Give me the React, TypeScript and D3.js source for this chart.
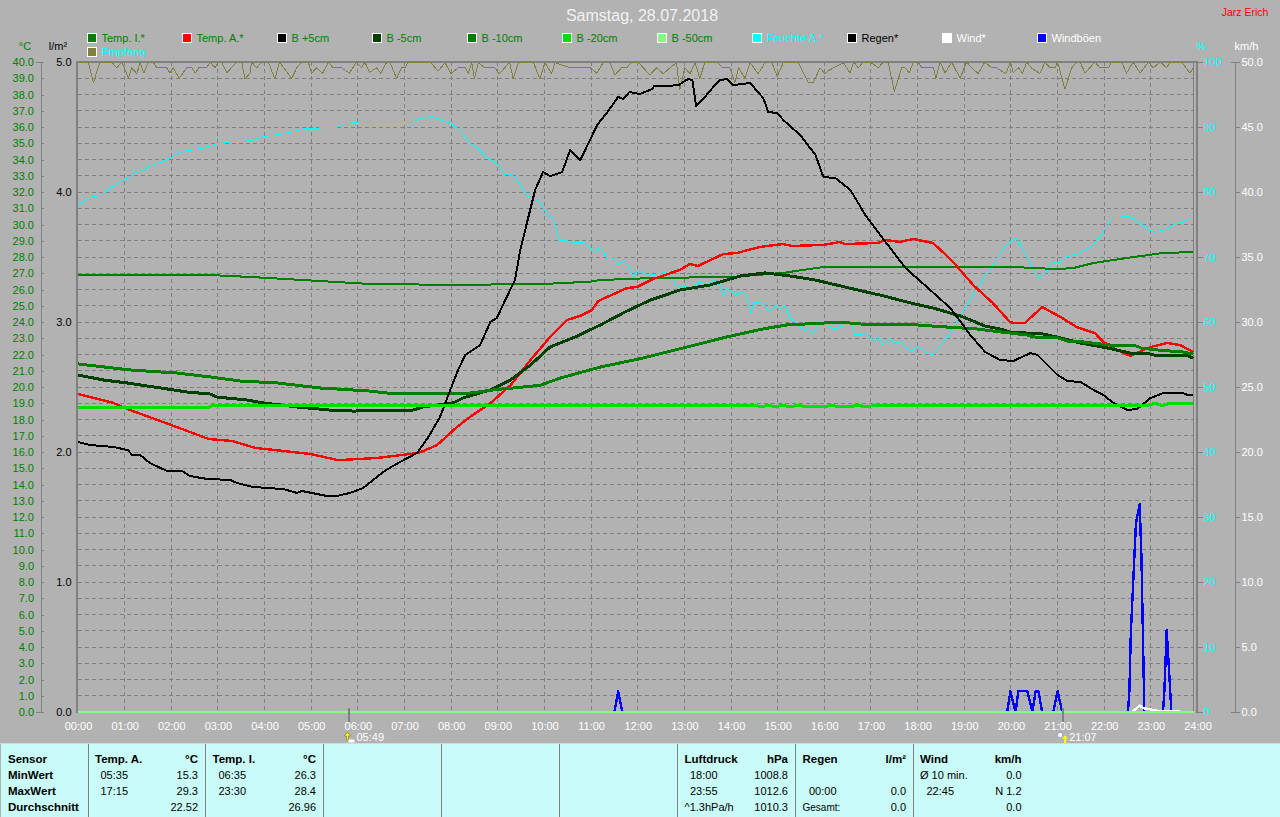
import { useEffect, useRef } from 'react';
import * as d3 from 'd3';

type Pt = [number, number]; // [hour of day, value]

const tempInside: Pt[] = [[0,26.92],[2.83,26.89],[3.7,26.77],[5.2,26.52],[6.25,26.34],[8.2,26.28],[10.12,26.36],[10.98,26.48],[11.19,26.58],[12.26,26.7],[14.04,26.78],[15.11,27.02],[15.97,27.38],[19.98,27.4],[20.48,27.32],[21,27.26],[21.34,27.32],[21.77,27.63],[22.63,28],[23.27,28.25],[23.91,28.3]];
const tempOutside: Pt[] = [[0,19.57],[0.75,19.03],[1.1,18.6],[2,17.66],[2.8,16.8],[3.3,16.68],[3.8,16.25],[4.98,15.88],[5.58,15.5],[6.4,15.63],[7.3,15.94],[7.7,16.43],[8.1,17.48],[8.4,18.15],[8.84,19],[9.27,20.1],[9.7,21.66],[10.12,23.08],[10.48,24.12],[10.76,24.37],[11.02,24.74],[11.15,25.29],[11.77,26.09],[11.98,26.15],[12.33,26.65],[12.9,27.2],[13.12,27.57],[13.29,27.45],[13.83,28.18],[14.13,28.25],[14.62,28.62],[15.11,28.8],[15.3,28.68],[15.97,28.74],[16.33,28.92],[16.44,28.8],[17.15,28.86],[17.3,29.05],[17.62,28.92],[17.9,29.11],[18.33,28.86],[18.54,28.3],[18.76,27.69],[19.19,26.28],[19.61,25.17],[19.98,24],[20.05,23.94],[20.3,23.94],[20.67,24.92],[21.06,24.31],[21.41,23.69],[21.8,23.32],[21.98,22.77],[22.28,22.28],[22.56,21.91],[22.99,22.46],[23.35,22.71],[23.63,22.58],[23.91,22.15]];
const soilPlus5: Pt[] = [[0,16.62],[0.26,16.43],[0.75,16.31],[1.07,16.12],[1.16,15.82],[1.33,15.82],[1.54,15.32],[1.91,14.83],[2.23,14.83],[2.4,14.52],[2.77,14.34],[3.26,14.28],[3.41,14.09],[3.75,13.85],[4.4,13.72],[4.7,13.48],[4.8,13.6],[5.34,13.29],[5.55,13.29],[5.83,13.48],[6.11,13.78],[6.33,14.28],[6.54,14.77],[6.86,15.32],[7.27,15.94],[7.51,16.92],[7.76,18.15],[7.98,19.82],[8.15,21.05],[8.3,21.97],[8.62,22.58],[8.84,24],[8.98,24.25],[9.16,25.35],[9.37,26.6],[9.48,28.43],[9.8,32.12],[9.97,33.23],[10.12,32.98],[10.38,33.23],[10.55,34.58],[10.77,33.97],[11.13,36.12],[11.35,36.92],[11.58,37.85],[11.69,37.72],[11.82,38.15],[12.05,38.03],[12.31,38.34],[12.35,38.52],[12.63,38.52],[12.87,38.58],[13.08,38.95],[13.17,38.89],[13.25,37.29],[13.4,37.72],[13.62,38.46],[13.77,38.89],[13.92,38.95],[14.05,38.58],[14.41,38.71],[14.69,37.78],[14.8,36.92],[14.99,36.86],[15.12,36.43],[15.48,35.51],[15.81,34.28],[15.98,32.92],[16.24,32.86],[16.56,32.12],[16.88,30.58],[17.2,29.35],[17.74,27.32],[18.27,25.97],[18.7,24.86],[19.13,23.2],[19.45,22.15],[19.77,21.66],[20.05,21.6],[20.42,22.09],[20.57,21.97],[21,20.74],[21.21,20.37],[21.49,20.31],[21.77,19.82],[21.98,19.51],[22.2,19.02],[22.5,18.58],[22.71,18.65],[22.99,19.32],[23.27,19.63],[23.68,19.63],[23.79,19.51],[23.91,19.51]];
const soilMinus5: Pt[] = [[0,20.74],[0.55,20.43],[1.05,20.25],[1.48,20.06],[1.91,19.88],[2.34,19.69],[2.83,19.57],[2.98,19.38],[3.62,19.2],[3.97,19.02],[4.7,18.77],[5.4,18.58],[5.9,18.52],[7.18,18.58],[7.4,18.77],[8.04,19.02],[8.25,19.32],[8.4,19.45],[8.84,19.82],[9.27,20.43],[9.7,21.35],[10.12,22.46],[10.66,23.08],[11.2,23.82],[11.73,24.62],[12.27,25.35],[12.91,25.97],[13.55,26.28],[14.2,26.83],[14.73,27.02],[15.27,26.83],[15.81,26.58],[16.7,25.98],[17.28,25.6],[17.85,25.17],[18.33,24.86],[18.92,24.37],[19.45,23.75],[19.77,23.57],[19.99,23.38],[20.7,23.26],[21.06,23.02],[21.49,22.71],[22.07,22.4],[22.56,22.09],[22.99,22.03],[23.14,21.91],[23.79,21.91],[23.91,21.78]];
const soilMinus10: Pt[] = [[0,21.42],[1.11,21.05],[2.12,20.86],[2.83,20.62],[3.47,20.37],[4.27,20.25],[5.19,19.94],[6.26,19.75],[6.63,19.63],[8.4,19.63],[9,19.85],[9.9,20.1],[10.34,20.55],[11.2,21.23],[12.11,21.78],[12.97,22.4],[13.91,23.08],[14.68,23.57],[15.2,23.82],[16.4,24],[16.7,23.88],[17.98,23.82],[18.63,23.69],[19.27,23.57],[19.98,23.32],[20.35,23.2],[20.48,23.08],[21,23.02],[21.21,22.83],[21.55,22.77],[22.13,22.58],[22.71,22.52],[22.78,22.4],[23.14,22.28],[23.7,22.15],[23.91,22.03]];
const soilMinus20: Pt[] = [[0,18.74],[2.8,18.74],[2.9,18.89],[14.5,18.89],[14.65,18.77],[14.8,18.89],[14.95,18.77],[15.1,18.89],[15.25,18.77],[15.45,18.89],[15.6,18.77],[16,18.77],[16.15,18.89],[16.3,18.77],[16.55,18.77],[16.7,18.89],[16.9,18.77],[17.1,18.89],[22.95,18.89],[23.1,19],[23.25,18.85],[23.4,19],[23.91,19]];
const soilMinus50: Pt[] = [[0,0],[23.92,0]];
const rain: Pt[] = [[0,0],[23.92,0]];
const humidity: Pt[] = [[0,78],[0.26,79.2],[0.51,79.5],[0.69,80.7],[0.83,81.1],[0.94,81.8],[1.11,82.3],[1.19,82.8],[1.44,83.5],[1.54,84],[1.76,84.5],[2.04,85.5],[2.22,86.2],[2.65,86.7],[2.97,87.4],[3.26,87.7],[3.72,87.9],[3.97,88.5],[4.26,88.8],[4.69,89.4],[4.82,89.7],[5.55,90],[5.72,90.5],[6.05,90.8],[7.22,90.9],[7.33,91.3],[7.58,91.6],[7.94,90.7],[8.05,90.3],[8.22,89.2],[8.4,87.5],[8.55,86.9],[8.76,85.4],[9.01,84.2],[9.15,82.7],[9.26,82.8],[9.4,82.1],[9.63,79.4],[9.76,79],[9.9,78.4],[9.97,77.7],[10.1,76],[10.17,76.2],[10.32,72.5],[10.44,72.6],[10.58,72.1],[10.69,72.3],[10.9,72.1],[11.07,70.7],[11.15,71.3],[11.26,71.1],[11.33,69.8],[11.44,70],[11.58,68.8],[11.73,69.7],[11.9,67],[11.99,67.9],[12.23,67.2],[12.58,67.6],[12.73,67.2],[12.82,65.7],[12.94,65.3],[13.12,65.7],[13.19,65.4],[13.3,66.1],[13.48,65.9],[13.65,66.5],[13.78,65.5],[13.83,64],[13.9,65.2],[14.12,64.2],[14.23,64.7],[14.33,63.9],[14.43,61.4],[14.5,63.1],[14.69,62.8],[14.83,61.6],[14.94,62.5],[15.05,62.1],[15.16,62.5],[15.26,60.7],[15.44,59.5],[15.58,58.7],[15.65,59],[15.76,58.4],[15.87,59.4],[16.05,59.5],[16.23,58.9],[16.41,59.4],[16.59,59.4],[16.66,58],[16.87,58.2],[17.08,57],[17.16,57.7],[17.26,56.5],[17.41,57.5],[17.51,56.7],[17.66,57],[17.76,55.8],[17.87,55.6],[18.01,56.2],[18.19,55.3],[18.33,54.9],[18.48,56.5],[18.66,57.8],[18.91,60.8],[19.19,64.2],[19.48,67.5],[19.73,70],[19.87,71.6],[20.09,72.9],[20.16,72.4],[20.59,66.7],[20.73,67.5],[20.91,69.3],[21.01,69],[21.19,70],[21.48,70.6],[21.76,71.8],[22.19,76],[22.51,76.3],[22.77,75.3],[22.91,74.3],[23.09,73.8],[23.34,74.3],[23.52,75.1],[23.69,75.3],[23.89,76.2]];
const reception: Pt[] = [[0,100],[0.22,100],[0.33,96.8],[0.47,100],[0.72,100],[0.83,99.1],[0.94,100],[1.08,97.5],[1.15,99.1],[1.26,98.2],[1.33,99.9],[1.41,98.3],[1.51,100],[1.61,100],[1.69,99.1],[1.9,99.1],[1.97,98.3],[2.04,99.1],[2.17,97.5],[2.33,99.1],[2.44,99.1],[2.51,98.3],[2.59,99.1],[2.76,99.1],[2.83,100],[2.94,99.1],[3.01,100],[3.08,100],[3.19,98.3],[3.4,100],[3.51,100],[3.58,97.4],[3.69,98.3],[3.72,100],[3.83,99.1],[3.94,100],[4.08,100],[4.22,97.4],[4.32,100],[4.58,97.5],[4.69,99.1],[4.79,100],[4.94,99.9],[5.01,98.3],[5.12,99.1],[5.24,98.2],[5.37,100],[5.47,99.1],[5.65,99.1],[5.82,98.3],[5.97,100],[6.08,99.1],[6.15,100],[6.25,98.4],[6.4,99.1],[6.49,98.3],[6.62,100],[6.69,99.9],[6.83,97.5],[6.94,99.1],[7.01,99.1],[7.08,100],[7.55,100],[7.72,98.6],[7.87,99.9],[7.99,98.2],[8.15,99.1],[8.3,99.1],[8.37,98.3],[8.44,99.9],[8.5,97.5],[8.58,99.9],[8.72,99.1],[8.94,99.1],[9.03,98.2],[9.15,99.1],[9.25,100],[9.33,97.5],[9.44,99.9],[9.76,100],[9.9,97.4],[10.01,99.9],[10.15,98.2],[10.23,99.9],[10.55,99.1],[10.98,99.1],[11.12,98.3],[11.26,99.9],[11.4,100],[11.51,98],[11.65,99.1],[11.76,99.1],[11.87,100],[12.01,100],[12.12,99.1],[12.26,98],[12.4,99.1],[12.55,98.2],[12.69,99.1],[12.83,99.9],[12.9,95.7],[13.01,99.1],[13.12,98.2],[13.23,99.9],[13.33,97.5],[13.44,99.9],[13.69,100],[13.83,99.1],[13.98,99.1],[14.08,96.8],[14.16,99.1],[14.3,97.5],[14.41,99.9],[14.58,98.2],[14.73,99.9],[14.87,100],[14.99,97.8],[15.12,99.9],[15.44,99.9],[15.66,96.8],[15.76,96.8],[15.91,99.1],[16.01,98.2],[16.12,98.8],[16.41,99.9],[16.55,98.3],[16.63,100],[16.73,99.1],[16.83,100],[16.98,100],[17.16,99.1],[17.26,100],[17.37,99.9],[17.5,95.5],[17.66,99.1],[17.73,99.1],[17.82,98.3],[17.91,100],[18.01,100],[18.09,99.1],[18.34,99.1],[18.39,97.4],[18.48,100],[18.59,98.3],[18.73,100],[18.91,97.5],[19.05,100],[19.16,99.1],[19.3,98.2],[19.44,100],[19.59,99.1],[19.69,99.1],[19.89,98.2],[19.99,100],[20.05,98.3],[20.16,99.1],[20.25,98.3],[20.34,100],[20.44,99.1],[20.62,98.2],[20.73,100],[20.84,99.1],[20.95,99.1],[21,100],[21.16,95.8],[21.3,99.1],[21.41,100],[21.48,100],[21.59,98.3],[21.69,99.1],[21.8,100],[21.91,99.1],[22.09,99.1],[22.16,100],[22.37,100],[22.48,98.3],[22.62,100],[22.77,98.3],[22.95,100],[23.05,99.1],[23.2,100],[23.34,99.1],[23.41,100],[23.66,100],[23.84,98.3],[23.91,99.1]];
const wind: Pt[] = [[22.6,0],[22.76,0.5],[22.84,0.3],[23.14,0.1],[23.63,0.1]];
// gust bursts, the line is only drawn while the gusts are above zero
const gustsNoon: Pt[] = [[11.5,0],[11.58,1.6],[11.67,0]];
const gustsEvening: Pt[] = [[19.92,0],[19.99,1.6],[20.1,0],[20.16,1.6],[20.35,1.6],[20.46,0],[20.53,1.6],[20.59,1.6],[20.67,0]];
const gustsNine: Pt[] = [[20.91,0],[21,1.6],[21.1,0]];
const gustsPeak: Pt[] = [[22.51,0],[22.54,1.6],[22.57,6],[22.68,14.5],[22.76,16],[22.8,11.7],[22.84,4],[22.86,0]];
const gustsLate: Pt[] = [[23.26,0],[23.29,1.6],[23.34,6.3],[23.39,3.2],[23.44,0]];

const sunrise = 5.82;
const sunset = 21.12;

const legendTop = [
  { label: 'Temp. I.*', color: '#008000', text: '#008000' },
  { label: 'Temp. A.*', color: '#ff0000', text: '#008000' },
  { label: 'B +5cm', color: '#000000', text: '#008000' },
  { label: 'B -5cm', color: '#004000', text: '#008000' },
  { label: 'B -10cm', color: '#008000', text: '#008000' },
  { label: 'B -20cm', color: '#00e000', text: '#008000' },
  { label: 'B -50cm', color: '#80ff80', text: '#008000' },
  { label: 'Feuchte A.*', color: '#00ffff', text: '#00ffff' },
  { label: 'Regen*', color: '#000000', text: '#000000' },
  { label: 'Wind*', color: '#ffffff', text: '#ffffff' },
  { label: 'Windböen', color: '#0000ff', text: '#ffffff' },
];

const tableDividers = [88, 205, 323, 441, 559, 677, 795, 913];
const tableRows = ['Sensor', 'MinWert', 'MaxWert', 'Durchschnitt'];
// [text, x, row, anchor, bold]
const tableCells: [string, number, number, string, boolean][] = [
  ['Temp. A.', 95, 0, 'start', true], ['°C', 198, 0, 'end', true],
  ['05:35', 100.5, 1, 'start', false], ['15.3', 198, 1, 'end', false],
  ['17:15', 100.5, 2, 'start', false], ['29.3', 198, 2, 'end', false],
  ['22.52', 198, 3, 'end', false],
  ['Temp. I.', 212.5, 0, 'start', true], ['°C', 316, 0, 'end', true],
  ['06:35', 218.5, 1, 'start', false], ['26.3', 316, 1, 'end', false],
  ['23:30', 218.5, 2, 'start', false], ['28.4', 316, 2, 'end', false],
  ['26.96', 316, 3, 'end', false],
  ['Luftdruck', 684.5, 0, 'start', true], ['hPa', 788, 0, 'end', true],
  ['18:00', 690, 1, 'start', false], ['1008.8', 788, 1, 'end', false],
  ['23:55', 690, 2, 'start', false], ['1012.6', 788, 2, 'end', false],
  ['^1.3hPa/h', 684.5, 3, 'start', false], ['1010.3', 788, 3, 'end', false],
  ['Regen', 802.5, 0, 'start', true], ['l/m²', 906, 0, 'end', true],
  ['00:00', 809, 2, 'start', false], ['0.0', 906, 2, 'end', false],
  ['Gesamt:', 802.5, 3, 'start', false], ['0.0', 906, 3, 'end', false],
  ['Wind', 920, 0, 'start', true], ['km/h', 1021.5, 0, 'end', true],
  ['Ø 10 min.', 920, 1, 'start', false], ['0.0', 1021.5, 1, 'end', false],
  ['22:45', 926.5, 2, 'start', false], ['N 1.2', 1021.5, 2, 'end', false],
  ['0.0', 1021.5, 3, 'end', false],
];

const FONT = '"Liberation Sans", Arial, sans-serif';
const GREY = '#808080';
const WIDTH = 1280;
const HEIGHT = 817;
const TOP = 62;
const BOTTOM = 712;
const LEFT = 78;
const RIGHT = 1197.5;

export default function App() {
  const svgRef = useRef<SVGSVGElement>(null);

  useEffect(() => {
    if (!svgRef.current) return;
    const svg = d3.select(svgRef.current);
    svg.selectAll('*').remove();
    svg.attr('font-family', FONT).attr('font-size', 11);

    const x = d3.scaleLinear().domain([0, 24]).range([LEFT, RIGHT]);
    const yTemp = d3.scaleLinear().domain([0, 40]).range([BOTTOM, TOP]);
    const yRain = d3.scaleLinear().domain([0, 5]).range([BOTTOM, TOP]);
    const yPct = d3.scaleLinear().domain([0, 100]).range([BOTTOM, TOP]);
    const yWind = d3.scaleLinear().domain([0, 50]).range([BOTTOM, TOP]);

    svg.append('rect').attr('width', WIDTH).attr('height', HEIGHT).attr('fill', '#b2b2b2');

    // dashed grid
    const grid = svg.append('g').attr('stroke', GREY).attr('stroke-dasharray', '4,3').attr('shape-rendering', 'crispEdges');
    d3.range(0, 40).forEach(v => {
      grid.append('line').attr('x1', LEFT).attr('x2', 1193).attr('y1', yTemp(v)).attr('y2', yTemp(v));
    });
    d3.range(1, 24).forEach(h => {
      grid.append('line').attr('x1', x(h)).attr('x2', x(h)).attr('y1', TOP).attr('y2', BOTTOM);
    });

    // frame
    const frame = svg.append('g').attr('stroke', GREY).attr('shape-rendering', 'crispEdges');
    frame.append('line').attr('x1', 77).attr('x2', 77).attr('y1', TOP - 1).attr('y2', BOTTOM + 1).attr('stroke-width', 2);
    frame.append('line').attr('x1', 76).attr('x2', 1198).attr('y1', TOP).attr('y2', TOP).attr('stroke-width', 2);
    frame.append('line').attr('x1', 1193.5).attr('x2', 1193.5).attr('y1', TOP).attr('y2', BOTTOM);
    frame.append('line').attr('x1', 1197).attr('x2', 1197).attr('y1', TOP - 1).attr('y2', BOTTOM + 1).attr('stroke-width', 2);

    // axes
    const styleAxis = (g: d3.Selection<SVGGElement, unknown, null, undefined>, color: string) => {
      g.attr('font-family', FONT).attr('font-size', 11);
      g.selectAll('path, line').attr('stroke', GREY).attr('shape-rendering', 'crispEdges');
      g.selectAll('text').attr('fill', color);
    };
    const fmt = d3.format('.1f');

    svg.append('g').attr('transform', 'translate(40.5,0)')
      .call(d3.axisLeft(yTemp).tickValues(d3.range(0, 41)).tickFormat(d => fmt(d as number)).tickSize(-3).tickSizeOuter(5).tickPadding(6.5))
      .call(g => styleAxis(g, '#008000'));

    svg.append('g').attr('transform', 'translate(71.5,0)')
      .call(d3.axisLeft(yRain).tickValues(d3.range(0, 6)).tickFormat(d => fmt(d as number)).tickSize(0).tickPadding(0))
      .call(g => { styleAxis(g, '#000000'); g.select('.domain').remove(); });

    svg.append('g').attr('transform', 'translate(1197.5,0)')
      .call(d3.axisRight(yPct).tickValues(d3.range(0, 101, 10)).tickSize(5).tickSizeOuter(0).tickPadding(1))
      .call(g => { styleAxis(g, '#00ffff'); g.select('.domain').remove(); });

    svg.append('g').attr('transform', 'translate(1234.5,0)')
      .call(d3.axisRight(yWind).tickValues(d3.range(0, 51, 5)).tickFormat(d => fmt(d as number)).tickSize(5).tickSizeOuter(-4).tickPadding(2))
      .call(g => styleAxis(g, '#ffffff'));

    svg.append('g').attr('transform', `translate(0,${BOTTOM})`)
      .call(d3.axisBottom(x).tickValues(d3.range(0, 25)).tickFormat(d => `${d3.format('02d')(d as number)}:00`).tickSize(0).tickPadding(10))
      .call(g => { styleAxis(g, '#ffffff'); g.select('.domain').remove(); });

    // axis units
    const label = (t: string, px: number, py: number, fill: string, anchor = 'middle', size = 11) =>
      svg.append('text').attr('x', px).attr('y', py).attr('dy', '0.35em').attr('fill', fill)
        .attr('text-anchor', anchor).attr('font-size', size).text(t);
    label('°C', 25, 46.5, '#008000');
    label('l/m²', 58, 46.5, '#000000');
    label('%', 1201.5, 46.5, '#00ffff');
    label('km/h', 1246.5, 46.5, '#ffffff');
    label('Samstag, 28.07.2018', 642, 15, '#ffffff', 'middle', 16).attr('fill-opacity', 0.85);
    label('Jarz Erich', 1245, 12, '#ff0000', 'middle', 10.5);

    // legend
    legendTop.forEach((d, i) => {
      const lx = 87.5 + i * 95;
      svg.append('rect').attr('x', lx).attr('y', 33.5).attr('width', 9).attr('height', 9)
        .attr('fill', d.color).attr('stroke', '#ffffff').attr('shape-rendering', 'crispEdges');
      label(d.label, lx + 14, 38, d.text, 'start');
    });
    svg.append('rect').attr('x', 87.5).attr('y', 47.5).attr('width', 9).attr('height', 9)
      .attr('fill', '#808040').attr('stroke', '#ffffff').attr('shape-rendering', 'crispEdges');
    label('Empfang', 101.5, 52, '#00ffff', 'start');

    // series
    const plot = (data: Pt[], y: d3.ScaleLinear<number, number>, color: string, width: number) => {
      const line = d3.line<Pt>().x(d => x(d[0])).y(d => y(d[1]));
      svg.append('path').attr('d', line(data)).attr('fill', 'none').attr('stroke', color)
        .attr('stroke-width', width).attr('stroke-linejoin', 'round').attr('shape-rendering', 'crispEdges');
    };
    plot(reception, yPct, '#808040', 1);
    plot(humidity, yPct, '#00ffff', 1);
    plot(tempInside, yTemp, '#008000', 2);
    plot(tempOutside, yTemp, '#ff0000', 2.4);
    plot(soilMinus5, yTemp, '#004000', 3);
    plot(soilMinus10, yTemp, '#008000', 3);
    plot(soilPlus5, yTemp, '#000000', 2);
    plot(soilMinus20, yTemp, '#00e000', 3);
    plot(rain, yRain, '#000000', 1);
    [gustsNoon, gustsEvening, gustsNine, gustsPeak, gustsLate].forEach(b => plot(b, yWind, '#0000ff', 2.4));
    plot(wind, yWind, '#ffffff', 2.4);
    plot(soilMinus50, yTemp, '#80ff80', 1.5);

    // sunrise / sunset markers
    [sunrise, sunset].forEach(h => {
      svg.append('line').attr('x1', x(h)).attr('x2', x(h)).attr('y1', 708).attr('y2', 722)
        .attr('stroke', GREY).attr('stroke-width', 2).attr('shape-rendering', 'crispEdges');
    });
    const rx = x(sunrise);
    svg.append('path').attr('d', `M${rx - 5},736 L${rx - 2},732 L${rx + 1},736 L${rx - 1},736 L${rx - 1},740 L${rx - 3},740 L${rx - 3},736 Z`).attr('fill', '#ffff00').attr('stroke', '#404000').attr('stroke-width', 0.4);
    svg.append('rect').attr('x', rx - 1).attr('y', 739.5).attr('width', 6).attr('height', 3).attr('fill', '#ffffff');
    label('05:49', rx + 7, 737.5, '#ffffff', 'start');
    const sx = x(sunset);
    svg.append('circle').attr('cx', sx - 3).attr('cy', 735).attr('r', 2.5).attr('fill', '#ffffff').attr('stroke', '#4040a0').attr('stroke-width', 0.6).attr('stroke-dasharray', '1,1');
    svg.append('path').attr('d', `M${sx - 1},739 L${sx + 2},735 L${sx + 5},739 L${sx + 3},739 L${sx + 3},743 L${sx + 1},743 L${sx + 1},739 Z`).attr('fill', '#ffff00');
    label('21:07', sx + 6, 737.5, '#ffffff', 'start');

    // summary table
    svg.append('rect').attr('x', 1).attr('y', 744).attr('width', WIDTH - 1).attr('height', HEIGHT - 744).attr('fill', '#c9fbf8');
    svg.append('line').attr('x1', 0).attr('x2', WIDTH).attr('y1', 743.5).attr('y2', 743.5).attr('stroke', '#d8d8d8');
    tableDividers.forEach(dx => {
      svg.append('line').attr('x1', dx + 0.5).attr('x2', dx + 0.5).attr('y1', 744).attr('y2', HEIGHT)
        .attr('stroke', GREY).attr('shape-rendering', 'crispEdges');
    });
    const rowY = (r: number) => 759 + r * 16;
    tableRows.forEach((t, r) => {
      label(t, 8, rowY(r), '#000000', 'start', 11.5).attr('font-weight', 'bold');
    });
    tableCells.forEach(([t, cx, r, anchor, bold]) => {
      const size = t === 'Gesamt:' ? 10 : bold ? 11.5 : 11;
      label(t, cx, rowY(r), '#000000', anchor, size).attr('font-weight', bold ? 'bold' : 'normal');
    });
  }, []);

  return (
    <svg
      ref={svgRef}
      width={WIDTH}
      height={HEIGHT}
      style={{ position: 'absolute', left: 0, top: 0, display: 'block' }}
    />
  );
}
